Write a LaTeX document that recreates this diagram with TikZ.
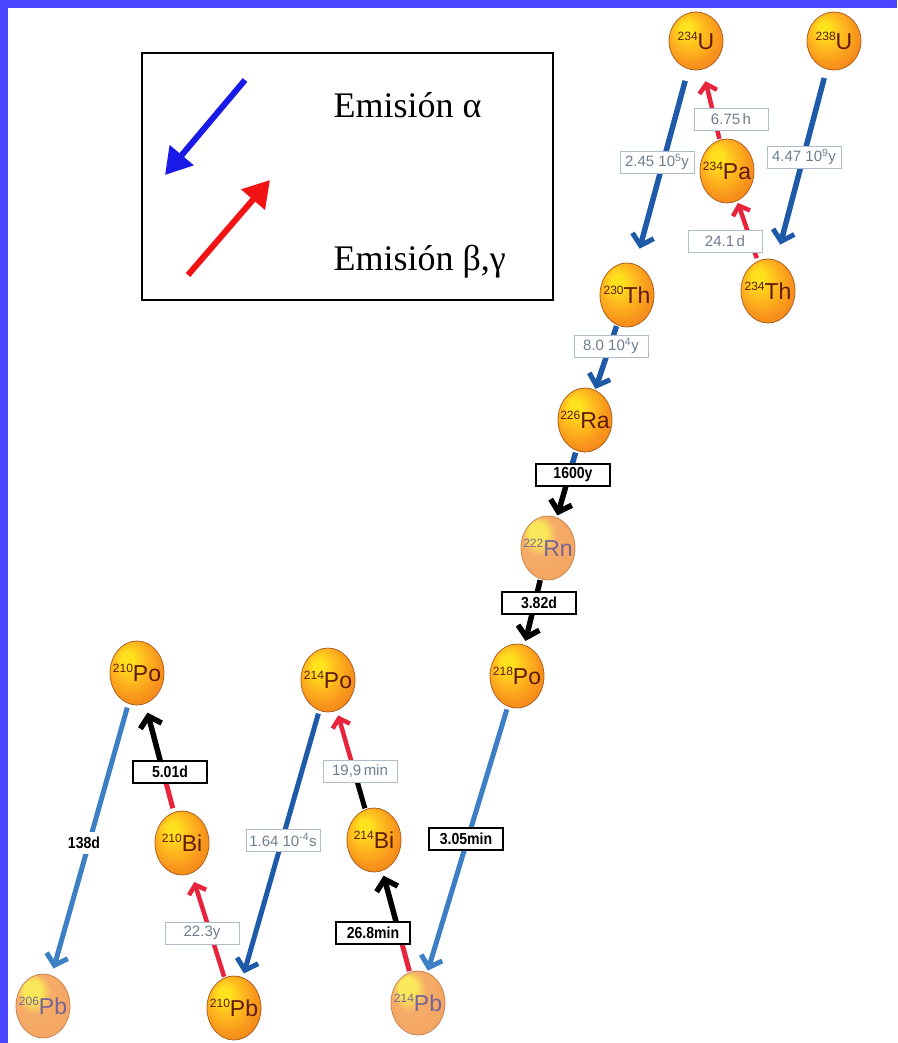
\documentclass[tikz,border=0pt]{standalone}
\usepackage{fontspec}
\setmainfont{Liberation Sans}
\newfontfamily\legfont{Liberation Serif}
\newfontfamily\condsans[FakeStretch=0.88]{Liberation Sans}
\usetikzlibrary{arrows.meta,shapes.geometric,calc}
\pgfdeclarelayer{bg}
\pgfsetlayers{bg,main}
\definecolor{frameblue}{RGB}{72,70,255}
\definecolor{nY}{RGB}{255,226,30}
\definecolor{nO0}{RGB}{255,186,30}
\definecolor{nO1}{RGB}{248,148,28}
\definecolor{nO2}{RGB}{236,122,18}
\definecolor{nucborder}{RGB}{176,96,30}
\definecolor{nuctext}{RGB}{95,28,10}
\definecolor{fY}{RGB}{250,232,90}
\definecolor{fO1}{RGB}{246,172,104}
\definecolor{fO2}{RGB}{242,158,92}
\definecolor{fadeborder}{RGB}{200,132,86}
\definecolor{fadetext}{RGB}{118,100,150}
\definecolor{alphablue}{RGB}{30,90,168}
\definecolor{lightblue}{RGB}{60,127,196}
\definecolor{betared}{RGB}{232,36,60}
\definecolor{labgray}{RGB}{111,126,142}
\definecolor{labborder}{RGB}{175,188,202}
\definecolor{legblue}{RGB}{26,26,232}
\definecolor{legred}{RGB}{242,20,20}
\pgfdeclareradialshading{nucA}{\pgfpoint{-10bp}{12bp}}{color(0bp)=(nY); color(5bp)=(nY); color(15bp)=(nO0); color(26bp)=(nO1); color(40bp)=(nO2); color(50bp)=(nO2)}
\pgfdeclareradialshading{nucF}{\pgfpoint{-12bp}{14bp}}{color(0bp)=(fY); color(8bp)=(fY); color(16bp)=(fO1); color(50bp)=(fO2)}
\newcommand\isot[2]{\makebox[0pt]{{\fontsize{12}{12}\selectfont\raisebox{8.5pt}{#1}}{\fontsize{23}{23}\selectfont #2}}}
\tikzset{
  nuc/.style={ellipse, minimum width=54pt, minimum height=64pt, inner sep=0pt,
    draw=nucborder, line width=0.8pt, shading=nucA, text=nuctext},
  fnuc/.style={nuc, shading=nucF, draw=fadeborder, text=fadetext},
  unuc/.style={nuc, minimum height=58pt},
  glab/.style={draw=labborder, line width=0.9pt, fill=white, text=labgray,
    font=\fontsize{15}{15}\selectfont, minimum width=74pt, minimum height=22pt, inner sep=1pt},
  blab/.style={draw=black, line width=1.3pt, fill=white, text=black,
    font=\condsans\bfseries\fontsize{16}{16}\selectfont, minimum width=74pt, minimum height=22pt, inner sep=1pt},
  alphaarr/.style={draw=alphablue, line width=5.5pt, -{Straight Barb[length=10pt,width=22pt,line width=5pt]}},
  lalphaarr/.style={alphaarr, draw=lightblue, line width=5pt},
  betaarr/.style={draw=betared, line width=4.5pt, -{Straight Barb[length=8pt,width=18pt,line width=4.5pt]}},
  blackarr/.style={draw=black, line width=5.5pt, -{Straight Barb[length=10pt,width=22pt,line width=5.5pt]}},
  legarr/.style={line width=6pt, -{Triangle[length=26pt,width=30pt]}}
}
\begin{document}
\begin{tikzpicture}[x=1pt,y=-1pt]
\useasboundingbox (0,0) rectangle (897,1043);
\fill[frameblue] (0,0) rectangle (897,8);
\fill[frameblue] (0,0) rectangle (8,1043);

% legend
\node[draw=black, line width=1.8pt, minimum width=411pt, minimum height=247pt, inner sep=0pt] (legend) at (347.5,176.5) {};
\node[anchor=base west, font=\legfont\fontsize{36}{36}\selectfont] (la) at (330,118) {Emisión α};
\node[anchor=base west, font=\legfont\fontsize{36}{36}\selectfont] (lb) at (330,270) {Emisión β,γ};
\coordinate (bt) at (245,80);
\coordinate (bh) at (165,175);
\coordinate (rt) at (188,275);
\coordinate (rh) at (270,180);
\draw[legarr, draw=legblue, fill=legblue] (bt) -- (bh);
\draw[legarr, draw=legred, fill=legred] (rt) -- (rh);

% nuclei
\node[unuc] (U234) at (696,41) {\isot{234}{U}};
\node[unuc] (U238) at (834,41) {\isot{238}{U}};
\node[nuc] (Pa234) at (727,171) {\isot{234}{Pa}};
\node[nuc] (Th230) at (627,295) {\isot{230}{Th}};
\node[nuc] (Th234) at (768,291) {\isot{234}{Th}};
\node[nuc] (Ra226) at (585,420) {\isot{226}{Ra}};
\node[fnuc] (Rn222) at (548,548) {\isot{222}{Rn}};
\node[nuc] (Po218) at (517,676) {\isot{218}{Po}};
\node[nuc] (Po210) at (137,673) {\isot{210}{Po}};
\node[nuc] (Po214) at (328,680) {\isot{214}{Po}};
\node[nuc] (Bi210) at (182,843) {\isot{210}{Bi}};
\node[nuc] (Bi214) at (374,840) {\isot{214}{Bi}};
\node[fnuc] (Pb206) at (43,1006) {\isot{206}{Pb}};
\node[nuc] (Pb210) at (234,1008) {\isot{210}{Pb}};
\node[fnuc] (Pb214) at (418,1003) {\isot{214}{Pb}};

% half-life labels
\node[glab] (l675) at (731,119) {6.75\,h};
\node[glab] (l245) at (657,162) {2.45 10\textsuperscript{5}y};
\node[glab] (l447) at (804,157) {4.47 10\textsuperscript{9}y};
\node[glab] (l241) at (725,241) {24.1\,d};
\node[glab] (l80) at (611,346) {8.0 10\textsuperscript{4}y};
\node[blab] (l1600) at (573,475) {1600y};
\node[blab] (l382) at (539,603) {3.82d};
\node[blab] (l305) at (466,839) {3.05min};
\node[blab] (l268) at (373,933) {26.8min};
\node[glab] (l199) at (360,771) {19,9\,min};
\node[glab] (l164) at (283,840) {1.64 10\textsuperscript{-4}s};
\node[glab] (l223) at (202,933) {22.3y};
\node[blab] (l501) at (170,772) {5.01d};
\node[blab, draw=none, fill=white] (l138) at (84,843) {138d};

\coordinate (m1600) at ($(Ra226)!0.43!(Rn222)$);
\coordinate (m268) at ($(Pb214)!0.43!(Bi214)$);
\coordinate (m199) at ($(Bi214)!0.43!(Po214)$);
\coordinate (m501) at ($(Bi210)!0.42!(Po210)$);

\begin{pgfonlayer}{bg}
\draw[alphaarr, shorten <=9pt, shorten >=16pt] (U238) -- (Th234);
\draw[alphaarr, shorten <=12pt, shorten >=16pt] (U234) -- (Th230);
\draw[betaarr, shorten <=1pt, shorten >=12pt] (Pa234) -- (U234);
\draw[betaarr, shorten <=3pt, shorten >=2pt] (Th234) -- (Pa234);
\draw[alphaarr, shorten <=1pt, shorten >=1pt] (Th230) -- (Ra226);
\draw[draw=alphablue, line width=5.5pt, shorten <=2pt] (Ra226) -- (m1600);
\draw[blackarr, shorten >=2pt] (m1600) -- (Rn222);
\draw[blackarr, shorten <=1pt, shorten >=4pt] (Rn222) -- (Po218);
\draw[lalphaarr, shorten <=3pt, shorten >=2pt] (Po218) -- (Pb214);
\draw[draw=betared, line width=5pt, shorten <=1pt] (Pb214) -- (m268);
\draw[blackarr, shorten >=5pt] (m268) -- (Bi214);
\draw[draw=black, line width=5pt, shorten <=1pt] (Bi214) -- (m199);
\draw[betaarr, shorten >=5pt] (m199) -- (Po214);
\draw[alphaarr, line width=5pt, shorten <=3pt, shorten >=4pt] (Po214) -- (Pb210);
\draw[betaarr, shorten <=1pt, shorten >=9pt] (Pb210) -- (Bi210);
\draw[draw=betared, line width=5pt, shorten <=4pt] (Bi210) -- (m501);
\draw[blackarr, shorten >=9pt] (m501) -- (Po210);
\draw[lalphaarr, shorten <=4pt, shorten >=7pt] (Po210) -- (Pb206);
\end{pgfonlayer}
\end{tikzpicture}
\end{document}
